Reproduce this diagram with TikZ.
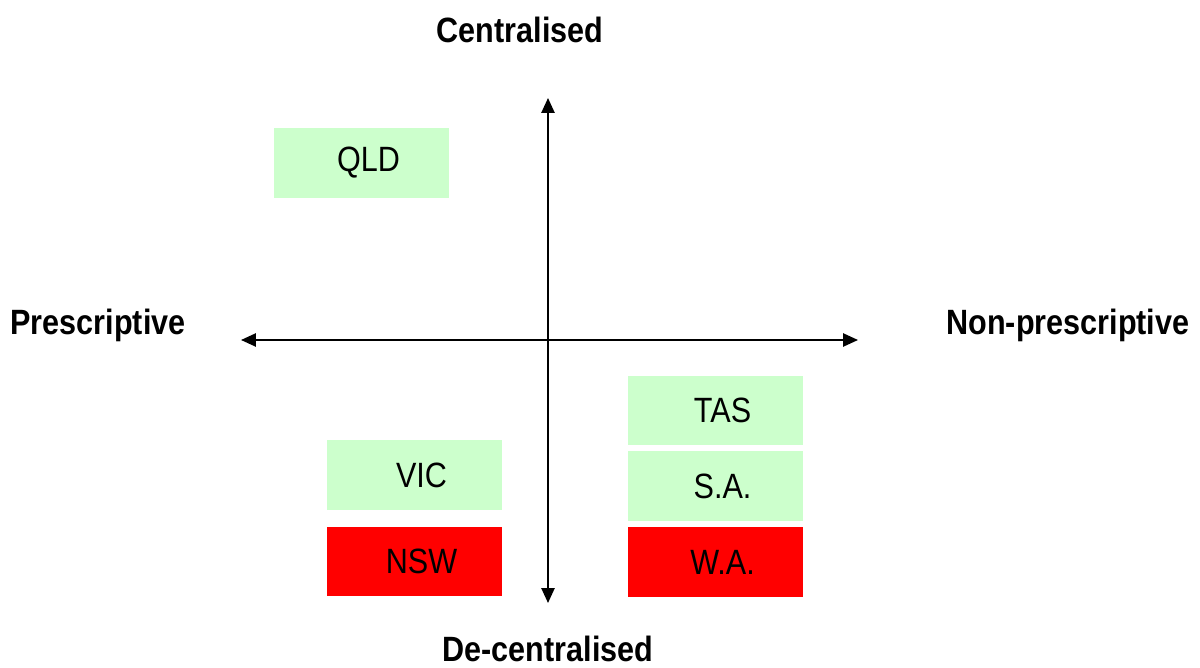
\documentclass[tikz,border=0pt]{standalone}
\usepackage{fontspec}
\setmainfont{Liberation Sans}[FakeStretch=0.87]
\usepackage{tikz}
\usetikzlibrary{arrows.meta,positioning}
\usepackage{xcolor}
\definecolor{stategreen}{HTML}{CCFFCC}
\definecolor{statered}{HTML}{FF0000}

\tikzset{
  statebox/.style={minimum width=3.5cm, minimum height=1.4cm, inner sep=0pt, font=\fontsize{20}{24}\selectfont},
  axislabel/.style={font=\fontsize{20}{24}\selectfont\bfseries},
}

\begin{document}
\begin{tikzpicture}[>={Triangle[length=8.5pt,width=7.5pt]}, x=0.02cm, y=-0.02cm]
  \useasboundingbox (0,0) rectangle (1200,668);

  % axes
  \coordinate (top) at (548,98);
  \coordinate (bottom) at (548,603);
  \coordinate (left) at (241,340);
  \coordinate (right) at (858,340);
  \draw[<->,line width=1.1pt] (left) -- (right);
  \draw[<->,line width=1.1pt] (top) -- (bottom);

  % axis labels
  \node[axislabel] (cent) at (520,30) {Centralised};
  \node[axislabel] (decent) at (548,649) {De-centralised};
  \node[axislabel] (presc) at (98,325) {Prescriptive};
  \node[axislabel] (nonpresc) at (1068,325) {Non-prescriptive};

  % states
  \node[statebox,fill=stategreen] (qld) at (361.5,163) {\hspace{8pt}QLD};
  \node[statebox,fill=stategreen] (vic) at (414.5,475) {\hspace{8pt}VIC};
  \node[statebox,fill=statered] (nsw) at (414.5,561.5) {\hspace{8pt}NSW};
  \node[statebox,fill=stategreen] (tas) at (715.5,410.5) {\hspace{8pt}TAS};
  \node[statebox,fill=stategreen] (sa) at (715.5,486) {\hspace{8pt}S.A.};
  \node[statebox,fill=statered] (wa) at (715.5,562) {\hspace{8pt}W.A.};
\end{tikzpicture}
\end{document}
